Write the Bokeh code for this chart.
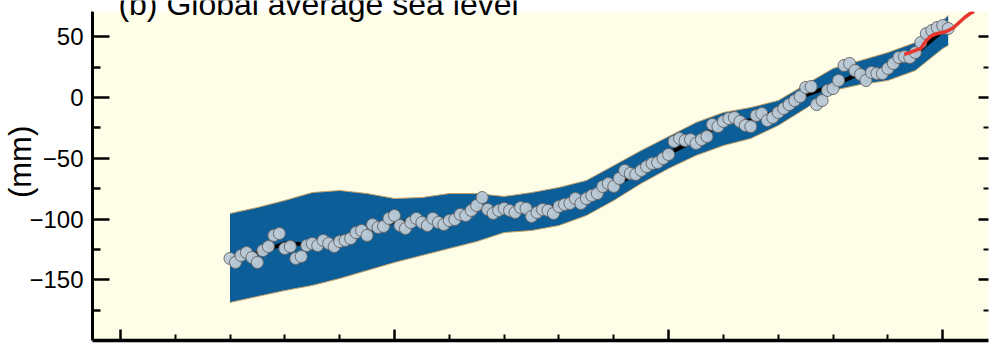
from bokeh.plotting import figure
from bokeh.models import (FixedTicker, LinearAxis, Label, Range1d, CustomLabelingPolicy,
                          BoxAnnotation)
from bokeh.embed import file_html
from bokeh.resources import INLINE

# ---- data ----
years = list(range(1870, 2002))
sea_level = [
    -132.4, -135.7, -130.0, -127.5, -131.6, -135.7, -125.9, -122.6, -113.5, -111.9,
    -124.2, -122.6, -132.4, -130.8, -121.8, -120.1, -121.8, -117.6, -120.1, -122.6,
    -118.5, -117.6, -116.0, -111.1, -109.4, -113.5, -104.5, -106.9, -106.1, -99.5,
    -97.1, -105.3, -107.8, -102.8, -99.5, -102.8, -105.3, -99.5, -102.8, -104.5,
    -101.2, -100.4, -96.2, -97.1, -92.9, -88.8, -82.3, -92.1, -95.4, -92.9,
    -91.3, -92.9, -94.6, -90.5, -91.3, -97.9, -94.6, -92.1, -92.9, -95.4,
    -89.7, -88.0, -87.2, -83.1, -87.2, -83.1, -80.6, -79.0, -73.2, -70.8,
    -73.2, -66.6, -60.0, -62.5, -63.3, -60.0, -56.8, -54.3, -53.5, -50.2,
    -46.9, -36.2, -33.7, -35.4, -34.6, -37.8, -34.6, -32.1, -22.2, -23.9,
    -19.7, -17.3, -16.5, -19.7, -23.0, -23.9, -14.8, -13.2, -18.9, -16.5,
    -12.3, -9.0, -5.8, -2.5, 0.8, 8.2, 9.0, -5.8, -2.5, 5.8,
    7.4, 14.0, 26.3, 28.0, 22.2, 18.9, 14.0, 20.6, 19.7, 19.7,
    23.9, 28.0, 32.9, 33.7, 32.9, 37.0, 45.2, 52.6, 55.1, 57.6,
    59.2, 56.8,
]

band_years = [1870, 1875, 1880, 1885, 1890, 1895, 1900, 1905, 1910, 1915, 1920, 1925, 1930,
              1935, 1940, 1945, 1950, 1955, 1960, 1965, 1970, 1975, 1980, 1985, 1990, 1995,
              2000, 2001]
band_upper = [-95.4, -90.5, -84.7, -78.2, -76.5, -79.0, -83.1, -82.3, -79.0, -79.0, -81.4,
              -78.2, -74.0, -68.3, -56.0, -43.6, -32.1, -20.6, -12.3, -8.2, -2.5, 10.7,
              23.9, 30.4, 37.0, 45.2, 63.3, 67.5]
band_lower = [-168.6, -163.7, -158.8, -154.6, -148.9, -142.3, -135.7, -129.9, -124.2,
              -118.5, -111.1, -109.4, -105.3, -97.1, -84.7, -70.7, -58.4, -47.7, -39.5,
              -33.7, -23.0, -9.0, 5.8, 10.7, 14.0, 22.2, 40.3, 42.8]

smooth_years = band_years
smooth_level = [-132, -128, -120, -121, -117, -110, -102, -103, -100, -91, -92, -94, -89,
                -83, -72, -61, -46, -35, -20, -19, -11, 2, 10, 20, 24, 36, 55, 57]

sat_years = [1993, 1994, 1995, 1996, 1997, 1998, 1999, 2000, 2001, 2002, 2003, 2004,
             2005, 2005.7]
sat_level = [35.4, 37.0, 38.7, 40.3, 46.9, 51.0, 52.6, 53.5, 55.1, 57.6, 61.7, 65.8,
             69.1, 70.7]

x_major = [1850, 1900, 1950, 2000]
x_minor = [1860, 1870, 1880, 1890, 1910, 1920, 1930, 1940, 1960, 1970, 1980, 1990, 2010]
y_major = [-200, -150, -100, -50, 0, 50]
y_minor = [-175, -125, -75, -25, 25]
y_labels = {-200: "", -150: "\u2212150", -100: "\u2212100", -50: "\u221250", 0: "0", 50: "50"}

FONT = "Liberation Sans"
Y_BOTTOM, Y_PANEL_TOP, Y_TOP = -199.9, 70.75, 79.8

p = figure(width=993, height=347, output_backend="svg", toolbar_location=None,
           x_range=Range1d(1844.92, 2008.35), y_range=Range1d(Y_BOTTOM, Y_TOP),
           min_border_left=92, min_border_right=0, min_border_top=0, min_border_bottom=7,
           x_axis_location=None, y_axis_location=None)
p.background_fill_color = "#fefde7"
p.border_fill_color = "white"
p.outline_line_color = None
p.grid.visible = False

# band
p.varea(x=band_years, y1=band_lower, y2=band_upper, fill_color="#0b5e98")
p.line(band_years, band_upper, line_color="#c9a066", line_width=1)
p.line(band_years, band_lower, line_color="#c9a066", line_width=1)
# smooth line
p.line(smooth_years, smooth_level, line_color="black", line_width=4)
# annual points
p.scatter(years, sea_level, size=12, fill_color="#bccad7", line_color="#6a6a6a",
          line_width=1, fill_alpha=0.95)
# satellite
p.line(sat_years, sat_level, line_color="#e8362f", line_width=3.5)

# white strip above the panel (page background), then the cropped panel title
p.add_layout(BoxAnnotation(bottom=Y_PANEL_TOP, fill_color="white", fill_alpha=1.0,
                           line_color=None))
p.add_layout(Label(x=1849.64, y=77.3, text="(b) Global average sea level",
                   text_font=FONT, text_font_size="32px", text_align="left",
                   text_baseline="alphabetic", text_color="black"))

HIDE_JS = "for (const i of indices) { indices.unset(i) }\nreturn indices"

# axes
xb = LinearAxis(ticker=FixedTicker(ticks=x_major, minor_ticks=x_minor))
xb.axis_line_width = 3.5
xb.major_tick_in = 11
xb.major_tick_out = 0
xb.minor_tick_in = 6
xb.minor_tick_out = 0
xb.major_tick_line_width = 2.5
xb.minor_tick_line_width = 2
xb.major_label_text_font_size = "1px"
xb.major_label_standoff = 0
xb.major_label_policy = CustomLabelingPolicy(code=HIDE_JS)
p.add_layout(xb, "below")

yl = LinearAxis(ticker=FixedTicker(ticks=y_major, minor_ticks=y_minor))
yl.bounds = (Y_BOTTOM, Y_PANEL_TOP)
yl.axis_line_width = 3
yl.major_tick_in = 17
yl.major_tick_out = 0
yl.minor_tick_in = 8
yl.minor_tick_out = 0
yl.major_tick_line_width = 2.5
yl.minor_tick_line_width = 2.5
yl.major_label_overrides = y_labels
yl.major_label_text_font = FONT
yl.major_label_text_font_size = "24px"
yl.major_label_text_color = "black"
yl.major_label_standoff = 9
yl.axis_label = "\u00a0\u00a0(mm)"
yl.axis_label_text_font = FONT
yl.axis_label_text_font_size = "31px"
yl.axis_label_text_font_style = "normal"
yl.axis_label_text_color = "black"
yl.axis_label_standoff = -12
p.add_layout(yl, "left")

yr = LinearAxis(ticker=FixedTicker(ticks=y_major, minor_ticks=y_minor))
yr.bounds = (Y_BOTTOM, Y_PANEL_TOP)
yr.axis_line_color = None
yr.major_tick_in = 10
yr.major_tick_out = 0
yr.minor_tick_in = 5
yr.minor_tick_out = 0
yr.major_tick_line_width = 2.5
yr.minor_tick_line_width = 2
yr.major_label_text_font_size = "1px"
yr.major_label_standoff = 0
yr.major_label_policy = CustomLabelingPolicy(code=HIDE_JS)
p.add_layout(yr, "right")

open("out.html", "w").write(file_html(p, INLINE))
